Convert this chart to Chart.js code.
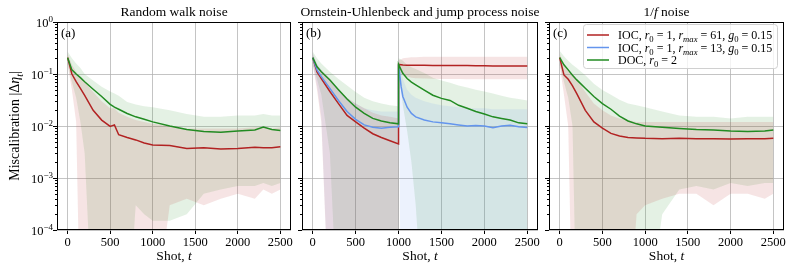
<!DOCTYPE html>
<html>
<head>
<meta charset="utf-8">
<script src="https://cdn.jsdelivr.net/npm/chart.js@4.4.1/dist/chart.umd.min.js"></script>
<style>
    html, body { margin: 0; padding: 0; background: #fff; }
    #wrap { position: relative; width: 793px; height: 270px; overflow: hidden; }
    .panel { position: absolute; top: 0; height: 270px; }
</style>
</head>
<body>
<div id="wrap">
    <div class="panel" style="left:0;width:294px"><canvas id="chartA"></canvas></div>
    <div class="panel" style="left:294px;width:248px"><canvas id="chartB"></canvas></div>
    <div class="panel" style="left:542px;width:251px"><canvas id="chartC"></canvas></div>
</div>
<script>
// ---- data ----
const xTicks = [0, 500, 1000, 1500, 2000, 2500];
const yTicks = [1e-4, 1e-3, 1e-2, 1e-1, 1];
const OFF = 1e-6; // lower band edge that falls below the axis

// (a) random walk noise
const tA = [0, 50, 100, 150, 200, 300, 400, 500, 550, 600, 700, 800, 900, 1000, 1200, 1400, 1600, 1800, 2000, 2200, 2300, 2400, 2500];
const redA = [0.206, 0.10, 0.071, 0.053, 0.039, 0.020, 0.013, 0.0098, 0.0105, 0.0068, 0.006, 0.0054, 0.0047, 0.0043, 0.0042, 0.0037, 0.0038, 0.0036, 0.0037, 0.0039, 0.0038, 0.0038, 0.0040];
const redAHi = [0.25, 0.15, 0.11, 0.085, 0.07, 0.045, 0.03, 0.022, 0.022, 0.018, 0.015, 0.013, 0.012, 0.011, 0.010, 0.009, 0.009, 0.009, 0.009, 0.0095, 0.0095, 0.009, 0.0095];
const redALo = [0.15, 0.05, 0.012, OFF, OFF, OFF, OFF, OFF, OFF, OFF, OFF, OFF, OFF, OFF, 3e-4, 4e-4, 3e-4, 4e-4, 5e-4, 4e-4, 6e-4, 5e-4, 6e-4];
const greenA = [0.206, 0.12, 0.10, 0.085, 0.071, 0.051, 0.037, 0.026, 0.023, 0.021, 0.0174, 0.015, 0.0135, 0.012, 0.010, 0.0086, 0.0078, 0.0076, 0.008, 0.0084, 0.0096, 0.0086, 0.0082];
const greenAHi = [0.27, 0.2, 0.16, 0.13, 0.10, 0.075, 0.057, 0.046, 0.042, 0.038, 0.029, 0.026, 0.024, 0.023, 0.02, 0.017, 0.015, 0.015, 0.016, 0.016, 0.017, 0.016, 0.016];
const greenALo = [0.15, 0.07, 0.035, 0.012, 0.003, OFF, OFF, OFF, OFF, OFF, OFF, 3e-4, 2e-4, 1.5e-4, 1.5e-4, 2e-4, 5e-4, 6e-4, 7e-4, 7e-4, 8e-4, 7e-4, 8e-4];

// (b) Ornstein-Uhlenbeck and jump process noise
const tB = [0, 50, 100, 200, 300, 400, 500, 600, 700, 800, 900, 1000, 1000, 1030, 1050, 1100, 1150, 1200, 1300, 1400, 1500, 1600, 1700, 1800, 1900, 2000, 2100, 2200, 2300, 2400, 2500];
const redB = [0.206, 0.11, 0.082, 0.046, 0.027, 0.016, 0.012, 0.0091, 0.0071, 0.006, 0.0052, 0.0045, 0.153, 0.151, 0.149, 0.148, 0.148, 0.147, 0.147, 0.146, 0.146, 0.145, 0.145, 0.145, 0.144, 0.144, 0.143, 0.143, 0.143, 0.142, 0.142];
const redBHi = [0.25, 0.15, 0.12, 0.08, 0.05, 0.035, 0.027, 0.022, 0.018, 0.016, 0.015, 0.014, 0.185, 0.19, 0.2, 0.205, 0.21, 0.21, 0.215, 0.215, 0.215, 0.215, 0.215, 0.215, 0.215, 0.215, 0.215, 0.215, 0.215, 0.215, 0.215];
const redBLo = [0.15, 0.05, 0.012, OFF, OFF, OFF, OFF, OFF, OFF, OFF, OFF, OFF, 0.12, 0.1, 0.095, 0.09, 0.085, 0.083, 0.082, 0.081, 0.08, 0.08, 0.08, 0.079, 0.079, 0.079, 0.079, 0.079, 0.079, 0.079, 0.079];
const blueB = [0.206, 0.12, 0.089, 0.053, 0.031, 0.019, 0.0134, 0.0105, 0.0095, 0.0091, 0.0095, 0.0097, 0.153, 0.057, 0.037, 0.023, 0.0175, 0.015, 0.013, 0.012, 0.0115, 0.011, 0.0105, 0.010, 0.0102, 0.010, 0.0093, 0.010, 0.0103, 0.0097, 0.0094];
const blueBHi = [0.25, 0.16, 0.12, 0.08, 0.05, 0.035, 0.027, 0.022, 0.02, 0.019, 0.019, 0.019, 0.19, 0.12, 0.08, 0.05, 0.04, 0.035, 0.03, 0.027, 0.025, 0.024, 0.023, 0.022, 0.022, 0.022, 0.021, 0.021, 0.021, 0.021, 0.021];
const blueBLo = [0.15, 0.06, 0.015, OFF, OFF, OFF, OFF, OFF, OFF, OFF, OFF, OFF, 0.12, OFF, OFF, OFF, OFF, OFF, OFF, OFF, OFF, OFF, OFF, OFF, OFF, OFF, OFF, OFF, OFF, OFF, OFF];
const greenB = [0.206, 0.138, 0.11, 0.077, 0.05, 0.033, 0.023, 0.0175, 0.014, 0.0125, 0.0115, 0.011, 0.153, 0.12, 0.103, 0.082, 0.07, 0.062, 0.049, 0.039, 0.034, 0.031, 0.025, 0.022, 0.019, 0.017, 0.015, 0.014, 0.013, 0.0115, 0.011];
const greenBHi = [0.27, 0.2, 0.16, 0.11, 0.08, 0.06, 0.045, 0.035, 0.03, 0.027, 0.025, 0.024, 0.2, 0.19, 0.18, 0.15, 0.135, 0.125, 0.105, 0.085, 0.075, 0.068, 0.06, 0.055, 0.05, 0.046, 0.042, 0.038, 0.035, 0.033, 0.031];
const greenBLo = [0.15, 0.08, 0.04, 0.003, OFF, OFF, OFF, OFF, OFF, OFF, OFF, OFF, 0.12, 0.05, 0.025, 0.008, 0.002, 3e-4, OFF, OFF, OFF, OFF, OFF, OFF, OFF, OFF, OFF, OFF, OFF, OFF, OFF];

// (c) 1/f noise
const tC = [0, 50, 100, 150, 200, 300, 400, 500, 600, 700, 800, 900, 1000, 1200, 1400, 1600, 1800, 2000, 2200, 2400, 2500];
const redC = [0.206, 0.096, 0.079, 0.059, 0.042, 0.020, 0.012, 0.0091, 0.0072, 0.0064, 0.006, 0.0059, 0.0058, 0.0057, 0.0058, 0.0057, 0.0057, 0.0056, 0.0057, 0.0057, 0.0058];
const redCHi = [0.25, 0.15, 0.12, 0.1, 0.08, 0.045, 0.027, 0.02, 0.016, 0.014, 0.013, 0.012, 0.012, 0.012, 0.012, 0.012, 0.012, 0.012, 0.012, 0.012, 0.012];
const redCLo = [0.15, 0.04, 0.01, OFF, OFF, OFF, OFF, OFF, OFF, OFF, OFF, 2e-4, 3e-4, 4e-4, 5e-4, 5e-4, 3e-4, 5e-4, 5e-4, 4e-4, 5e-4];
const greenC = [0.206, 0.15, 0.12, 0.095, 0.077, 0.053, 0.037, 0.027, 0.021, 0.0155, 0.0125, 0.011, 0.010, 0.0095, 0.009, 0.0086, 0.0084, 0.008, 0.0078, 0.008, 0.0084];
const greenCHi = [0.28, 0.22, 0.18, 0.15, 0.13, 0.095, 0.065, 0.049, 0.04, 0.032, 0.027, 0.025, 0.023, 0.019, 0.016, 0.015, 0.015, 0.014, 0.015, 0.015, 0.015];
const greenCLo = [0.15, 0.07, 0.035, 0.01, OFF, OFF, OFF, OFF, OFF, OFF, OFF, OFF, OFF, 2e-4, 6e-4, 7e-4, 6e-4, 8e-4, 7e-4, 8e-4, 8e-4];

// ---- styling ----
const SERIF = '"Liberation Serif", "DejaVu Serif", serif';
const LINE = { red: '#b22222', blue: '#6495ed', green: '#228b22' };
const BAND = { red: 'rgba(178,34,34,0.12)', blue: 'rgba(100,149,237,0.12)', green: 'rgba(34,139,34,0.12)' };

// rich text parts: [text, style]  n=normal i=italic b=sub bi=italic sub p=sup
const legendItems = [
    { c: 'red', parts: [['IOC, ', 'n'], ['r', 'i'], ['0', 'b'], [' = 1, ', 'n'], ['r', 'i'], ['max', 'bi'], [' = 61, ', 'n'], ['g', 'i'], ['0', 'b'], [' = 0.15', 'n']] },
    { c: 'blue', parts: [['IOC, ', 'n'], ['r', 'i'], ['0', 'b'], [' = 1, ', 'n'], ['r', 'i'], ['max', 'bi'], [' = 13, ', 'n'], ['g', 'i'], ['0', 'b'], [' = 0.15', 'n']] },
    { c: 'green', parts: [['DOC, ', 'n'], ['r', 'i'], ['0', 'b'], [' = 2', 'n']] }
];

function fontFor(style, size) {
    const small = style === 'b' || style === 'bi' || style === 'p';
    const italic = style === 'i' || style === 'bi';
    return (italic ? 'italic ' : '') + (small ? size * 0.72 : size) + 'px ' + SERIF;
}

function drawRich(ctx, parts, x, y, size, align) {
    let w = 0;
    parts.forEach(p => { ctx.font = fontFor(p[1], size); w += ctx.measureText(p[0]).width; });
    let cx = align === 'center' ? x - w / 2 : align === 'right' ? x - w : x;
    ctx.textAlign = 'left';
    ctx.textBaseline = 'alphabetic';
    parts.forEach(p => {
        ctx.font = fontFor(p[1], size);
        let dy = 0;
        if (p[1] === 'b' || p[1] === 'bi') dy = size * 0.25;
        if (p[1] === 'p') dy = -size * 0.4;
        ctx.fillText(p[0], cx, y + dy);
        cx += ctx.measureText(p[0]).width;
    });
}

const decor = {
    id: 'decor',
    afterDraw(chart) {
        const o = chart.options.plugins.decor;
        const ctx = chart.ctx, a = chart.chartArea, ys = chart.scales.y;
        ctx.save();
        ctx.fillStyle = '#000';
        ctx.strokeStyle = '#000';
        ctx.lineWidth = 1;
        // frame
        ctx.strokeRect(a.left + 0.5, a.top + 0.5, a.right - a.left - 1, a.bottom - a.top - 1);
        // minor y ticks
        for (let k = -4; k < 0; k++) {
            for (let m = 2; m <= 9; m++) {
                const py = Math.round(ys.getPixelForValue(m * Math.pow(10, k))) + 0.5;
                ctx.beginPath();
                ctx.moveTo(a.left - 2, py);
                ctx.lineTo(a.left, py);
                ctx.stroke();
            }
        }
        // y tick labels (first panel only)
        if (o.yLabels) {
            yTicks.forEach(v => {
                const py = ys.getPixelForValue(v) + 4.5;
                const e = Math.round(Math.log10(v));
                drawRich(ctx, [['10', 'n'], [e === 0 ? '0' : '\u2212' + (-e), 'p']], a.left - 4, py, 12.5, 'right');
            });
            ctx.save();
            ctx.translate(19, (a.top + a.bottom) / 2);
            ctx.rotate(-Math.PI / 2);
            drawRich(ctx, [['Miscalibration |\u0394', 'n'], ['\u03b7', 'i'], ['t', 'bi'], ['|', 'n']], 0, 0, 14, 'center');
            ctx.restore();
        }
        const mid = (a.left + a.right) / 2;
        drawRich(ctx, o.title, mid, 16, 13.5, 'center');
        drawRich(ctx, [[o.letter, 'n']], a.left + 4, 37, 13, 'left');
        drawRich(ctx, [['Shot, ', 'n'], ['t', 'i']], mid, 260, 13.5, 'center');
        // legend
        if (o.legend) {
            const bx = a.left + 34, by = 24, bw = 194, bh = 44;
            ctx.beginPath();
            ctx.roundRect(bx + 0.5, by + 0.5, bw, bh, 3);
            ctx.fillStyle = 'rgba(255,255,255,0.8)';
            ctx.fill();
            ctx.strokeStyle = '#d0d0d0';
            ctx.stroke();
            legendItems.forEach((it, i) => {
                const ly = by + 11 + i * 12.5;
                ctx.strokeStyle = LINE[it.c];
                ctx.lineWidth = 1.5;
                ctx.beginPath();
                ctx.moveTo(bx + 4, ly);
                ctx.lineTo(bx + 26, ly);
                ctx.stroke();
                ctx.fillStyle = '#000';
                drawRich(ctx, it.parts, bx + 35, ly + 4, 12, 'left');
            });
        }
        ctx.restore();
    }
};

function pts(t, vals) {
    return t.map((x, i) => ({ x: x, y: vals[i] }));
}

function makePanel(id, t, series, opts) {
    const datasets = [];
    series.forEach((s, i) => {
        datasets.push({
            data: pts(t, s.mean), borderColor: LINE[s.c], borderWidth: 1.5,
            pointRadius: 0, fill: false, tension: 0, order: 5 - i
        });
    });
    series.forEach((s, i) => {
        const up = datasets.length;
        datasets.push({
            data: pts(t, s.hi), borderWidth: 0, borderColor: 'rgba(0,0,0,0)',
            backgroundColor: BAND[s.c], pointRadius: 0, fill: up + 1, order: 10 + i
        });
        datasets.push({
            data: pts(t, s.lo), borderWidth: 0, borderColor: 'rgba(0,0,0,0)',
            pointRadius: 0, fill: false, order: 10 + i
        });
    });

    return new Chart(document.getElementById(id), {
        type: 'line',
        data: { datasets: datasets },
        options: {
            responsive: true,
            maintainAspectRatio: false,
            animation: false,
            devicePixelRatio: 1,
            layout: { padding: { left: 0, right: opts.padRight, top: 22, bottom: 0 } },
            plugins: {
                legend: { display: false },
                tooltip: { enabled: false },
                decor: opts
            },
            scales: {
                x: {
                    type: 'linear', min: -125, max: 2625,
                    afterBuildTicks: s => { s.ticks = xTicks.map(v => ({ value: v })); },
                    afterFit: s => { s.height = 40; },
                    ticks: { color: '#000', font: { family: SERIF, size: 12.5 }, padding: 1, maxRotation: 0, callback: v => v },
                    grid: { color: 'rgba(176,176,176,0.75)', lineWidth: 1, tickColor: '#000', tickLength: 4 },
                    border: { display: false }
                },
                y: {
                    type: 'logarithmic', min: 1e-4, max: 1,
                    afterBuildTicks: s => { s.ticks = yTicks.map(v => ({ value: v })); },
                    afterFit: s => { s.width = opts.yWidth; },
                    ticks: { display: false },
                    grid: { color: 'rgba(176,176,176,0.75)', lineWidth: 1, tickColor: '#000', tickLength: 4 },
                    border: { display: false }
                }
            }
        },
        plugins: [decor]
    });
}

makePanel('chartA', tA, [
    { c: 'red', mean: redA, hi: redAHi, lo: redALo },
    { c: 'green', mean: greenA, hi: greenAHi, lo: greenALo }
], { yWidth: 57, padRight: 3, yLabels: true, letter: '(a)', title: [['Random walk noise', 'n']] });

makePanel('chartB', tB, [
    { c: 'red', mean: redB, hi: redBHi, lo: redBLo },
    { c: 'blue', mean: blueB, hi: blueBHi, lo: blueBLo },
    { c: 'green', mean: greenB, hi: greenBHi, lo: greenBLo }
], { yWidth: 8, padRight: 4, letter: '(b)', title: [['Ornstein-Uhlenbeck and jump process noise', 'n']] });

makePanel('chartC', tC, [
    { c: 'red', mean: redC, hi: redCHi, lo: redCLo },
    { c: 'green', mean: greenC, hi: greenCHi, lo: greenCLo }
], { yWidth: 7, padRight: 9, letter: '(c)', legend: true, title: [['1/', 'n'], ['f', 'i'], [' noise', 'n']] });
</script>
</body>
</html>
